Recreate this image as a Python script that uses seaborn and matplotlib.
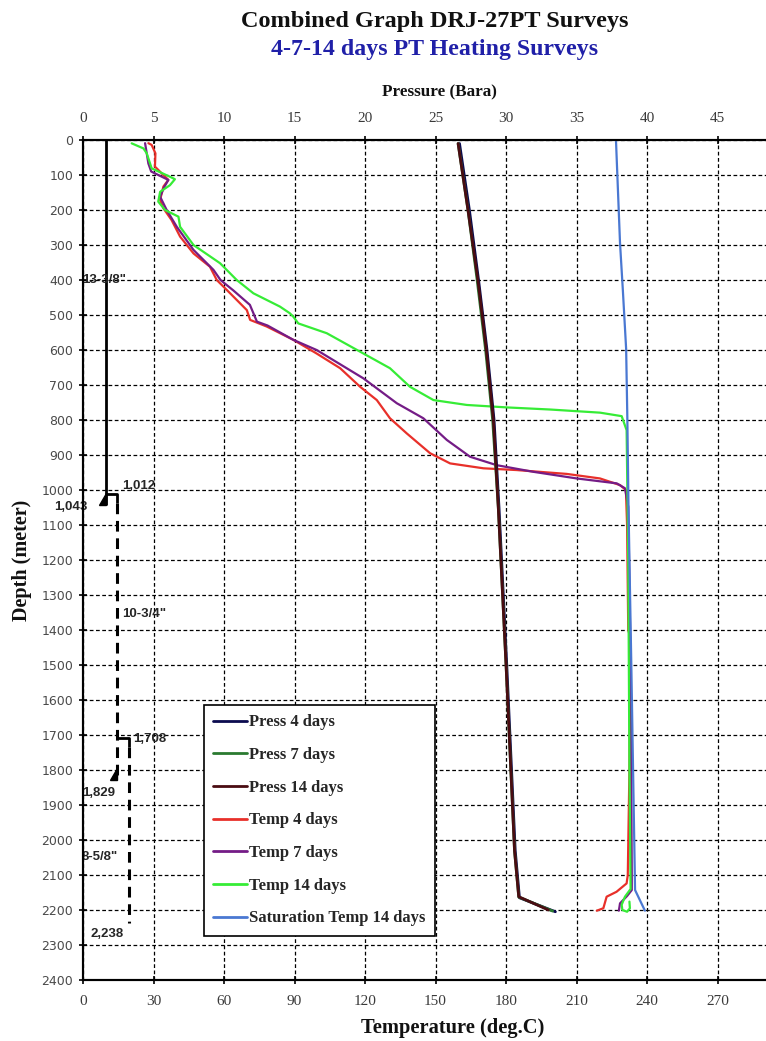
import matplotlib
matplotlib.use("Agg")
import matplotlib.pyplot as plt
from matplotlib.patches import Polygon
import seaborn as sns

# ---------------- survey data (depth in m) ----------------
depth_ticks = list(range(0, 2401, 100))
temp_ticks = list(range(0, 271, 30))
press_ticks = list(range(0, 46, 5))

press4_depth = [10, 200, 400, 600, 800, 1050, 1500, 2030, 2165, 2205]
press4_bar = [26.7, 27.4, 28.05, 28.65, 29.15, 29.5, 30.05, 30.65, 30.95, 33.5]

press7_depth = [10, 200, 400, 600, 800, 1050, 1500, 2030, 2163, 2203]
press7_bar = [26.6, 27.3, 27.95, 28.55, 29.05, 29.45, 30.0, 30.6, 30.9, 33.3]

press14_depth = [10, 200, 400, 600, 800, 1050, 1500, 2030, 2162, 2200]
press14_bar = [26.6, 27.3, 28.0, 28.6, 29.1, 29.45, 30.0, 30.6, 30.9, 33.0]

temp4_depth = [9, 14, 38, 76, 114, 133, 171, 195, 229, 276, 324, 362, 400, 438,
               486, 514, 533, 571, 610, 652, 705, 743, 795, 838, 895, 924, 938,
               943, 954, 967, 986, 1000, 1100, 1400, 1420, 1800, 2100, 2124,
               2148, 2162, 2195, 2202]
temp4_degc = [27.8, 29.2, 30.8, 30.6, 36.3, 34.2, 32.8, 34.2, 37.7, 41.3, 47.0,
              54.0, 56.9, 62.6, 69.7, 71.1, 78.2, 89.5, 99.4, 109.4, 117.9,
              125.0, 130.6, 137.7, 147.7, 156.2, 170.4, 184.5, 205.8, 220.0,
              228.5, 231.0, 231.5, 232.0, 232.8, 232.5, 231.8, 231.3, 227.0,
              222.8, 221.4, 218.6]

temp7_depth = [9, 38, 67, 90, 114, 135, 162, 200, 248, 314, 371, 400, 430, 471,
               495, 519, 530, 571, 600, 681, 752, 795, 857, 905, 929, 948, 967,
               981, 995, 1048, 1500, 2100, 2143, 2160, 2181, 2202]
temp7_degc = [26.4, 27.1, 27.8, 29.0, 36.3, 34.5, 32.8, 35.6, 39.9, 47.0, 55.5,
              58.5, 64.0, 71.0, 72.5, 74.0, 78.5, 89.5, 99.4, 119.3, 133.5,
              144.8, 154.8, 164.7, 176.0, 191.6, 210.1, 227.1, 230.6, 232.0,
              233.0, 233.5, 233.5, 231.5, 228.5, 228.0]

temp14_depth = [9.5, 24, 38, 81, 105, 112, 129, 148, 176, 200, 219, 248, 300,
                352, 400, 438, 476, 495, 505, 524, 552, 610, 652, 705, 743, 757,
                764, 770, 779, 789, 829, 1200, 1800, 2140, 2162, 2185, 2200,
                2205, 2195, 2176]
temp14_degc = [20.7, 25.7, 27.1, 29.2, 37.0, 39.1, 37.0, 32.8, 32.0, 34.9, 40.6,
               41.3, 47.0, 58.3, 65.4, 72.5, 83.8, 88.0, 89.5, 91.6, 103.7,
               119.3, 130.6, 139.1, 149.1, 163.3, 180.3, 198.7, 220.0, 229.2,
               231.3, 232.0, 232.5, 233.0, 230.6, 229.2, 229.5, 231.5, 232.7,
               232.5]

sat14_depth = [5, 295, 429, 597, 790, 1048, 1500, 2143, 2202]
sat14_degc = [226.8, 228.5, 229.7, 231.1, 231.6, 232.1, 233.3, 234.9, 239.1]

# casing program: size, top (hanger) and shoe depths
casing_size = ['13-3/8"', '10-3/4"', '8-5/8"']
casing_top = [0, 1012, 1708]
casing_shoe = [1043, 1829, 2238]

# ---------------- styling ----------------
sns.set_theme(style="white")
plt.rcParams["font.family"] = ["Liberation Serif", "DejaVu Serif"]

fig = plt.figure(figsize=(7.66, 10.41), dpi=100)
# the plotting area runs slightly past the right edge of the page
ax = fig.add_axes([0.1084, 0.0586, 0.9204, 0.8069])
ax2 = ax.twiny()

LW_T = 1.6
LW_P = 2.0

# pressure curves (top axis)
for d, p, c, lbl in [
    (press4_depth, press4_bar, "#0b0b4f", "Press 4 days"),
    (press7_depth, press7_bar, "#2a7a30", "Press 7 days"),
    (press14_depth, press14_bar, "#4a0c12", "Press 14 days"),
]:
    sns.lineplot(x=p, y=d, sort=False, estimator=None, color=c, lw=LW_P,
                 ax=ax2, label=lbl, legend=False)

# temperature curves (bottom axis)
for d, t, c, lbl in [
    (temp4_depth, temp4_degc, "#e8302a", "Temp 4 days"),
    (temp7_depth, temp7_degc, "#741c86", "Temp 7 days"),
    (temp14_depth, temp14_degc, "#36ec36", "Temp 14 days"),
    (sat14_depth, sat14_degc, "#4a78d2", "Saturation Temp 14 days"),
]:
    sns.lineplot(x=t, y=d, sort=False, estimator=None, color=c, lw=LW_T,
                 ax=ax, label=lbl, legend=False)

# casing schematic, drawn in temperature units on the bottom axis
cas_x = [9.6, 14.5, 19.6]
ax.plot([cas_x[0], cas_x[0]], [casing_top[0], casing_shoe[0]],
        color="black", lw=2.0, solid_capstyle="butt", zorder=4)
for i in (1, 2):
    ax.plot([cas_x[i - 1], cas_x[i], cas_x[i]],
            [casing_top[i], casing_top[i], casing_top[i] + 25],
            color="black", lw=2.0, solid_capstyle="butt", zorder=4)
    ax.plot([cas_x[i], cas_x[i]], [casing_top[i] + 25, casing_shoe[i]],
            color="black", lw=2.2, linestyle=(0, (3.5, 2.2)), zorder=4)
for i in (0, 1):
    ax.add_patch(Polygon([[cas_x[i] - 3.0, casing_shoe[i]],
                          [cas_x[i], casing_shoe[i]],
                          [cas_x[i], casing_shoe[i] - 35]],
                         closed=True, color="black", zorder=5))

ann_font = dict(family="Liberation Sans", fontsize=9.5, fontweight="bold",
                color="#262626", clip_on=False, zorder=6, va="center")
ax.text(-0.4, 400, casing_size[0], ha="left", **ann_font)
ax.text(1.8, 1049, f"{casing_shoe[0]:,}", ha="right", **ann_font)
ax.text(16.6, 989, f"{casing_top[1]:,}", ha="left", **ann_font)
ax.text(16.6, 1354, casing_size[1], ha="left", **ann_font)
ax.text(21.3, 1712, f"{casing_top[2]:,}", ha="left", **ann_font)
ax.text(-0.4, 1866, f"{casing_shoe[1]:,}", ha="left", **ann_font)
ax.text(-0.4, 2048, casing_size[2], ha="left", **ann_font)
ax.text(3.0, 2268, f"{casing_shoe[2]:,}", ha="left", **ann_font)

# axes limits and ticks
ax.set_ylim(2400, 0)
ax.set_xlim(0, 300)
ax2.set_xlim(0, 50)
ax.set_yticks(depth_ticks)
ax.set_xticks(temp_ticks)
ax2.set_xticks(press_ticks)

ax.grid(True, color="black", linestyle=(0, (3, 2)), linewidth=0.9)
ax2.grid(False)
ax.set_axisbelow(True)

for a in (ax, ax2):
    for s in a.spines.values():
        s.set_color("black")
        s.set_linewidth(1.5)
    a.spines["right"].set_visible(False)

ax.tick_params(axis="x", which="major", direction="inout", length=6,
               width=1.2, color="black", labelsize=11, labelcolor="#3a3a3a",
               pad=8, bottom=True, top=False)
ax.tick_params(axis="y", which="major", direction="inout", length=6,
               width=1.2, color="black", labelsize=9, labelcolor="#4a4a4a",
               pad=4, left=True)
ax2.tick_params(axis="x", which="major", direction="inout", length=6,
                width=1.2, color="black", labelsize=11, labelcolor="#3a3a3a",
                pad=8, top=True)
for lab in ax.get_yticklabels():
    lab.set_fontfamily("DejaVu Sans")
ax.set_xticklabels([str(v) for v in temp_ticks])
ax2.set_xticklabels([str(v) for v in press_ticks])

ax.set_xlabel("Temperature (deg.C)", fontsize=14.8, fontweight="bold",
              color="#111111", labelpad=8)
ax.xaxis.set_label_coords(0.525, -0.045)
ax2.set_xlabel("Pressure (Bara)", fontsize=12.3, fontweight="bold",
               color="#111111", labelpad=8)
ax2.xaxis.set_label_coords(0.506, 1.052)
ax.set_ylabel("")
fig.text(22 / 766, 1 - 560 / 1041, "Depth (meter)", rotation=90,
         fontsize=14.5, fontweight="bold", color="#111111",
         ha="center", va="center")

fig.text(435 / 766, 1 - 21 / 1041, "Combined Graph DRJ-27PT Surveys",
         fontsize=17.5, fontweight="bold", color="#111111",
         ha="center", va="center")
fig.text(435 / 766, 1 - 49 / 1041, "4-7-14 days PT Heating Surveys",
         fontsize=17.2, fontweight="bold", color="#2020a8",
         ha="center", va="center")

# combined legend
h2, l2 = ax2.get_legend_handles_labels()
h1, l1 = ax.get_legend_handles_labels()
leg = ax2.legend(h2 + h1, l2 + l1, loc="upper left",
                 bbox_to_anchor=(0.172, 0.327), borderaxespad=0,
                 frameon=True, fancybox=False, edgecolor="black",
                 prop=dict(family="Liberation Serif", weight="bold", size=12),
                 labelspacing=1.0, handlelength=2.0, handletextpad=0.15,
                 borderpad=0.55)
leg.get_frame().set_linewidth(1.2)
leg.get_frame().set_alpha(1)
for line in leg.get_lines():
    line.set_linewidth(2.0)

fig.savefig("out.png", dpi=100)
